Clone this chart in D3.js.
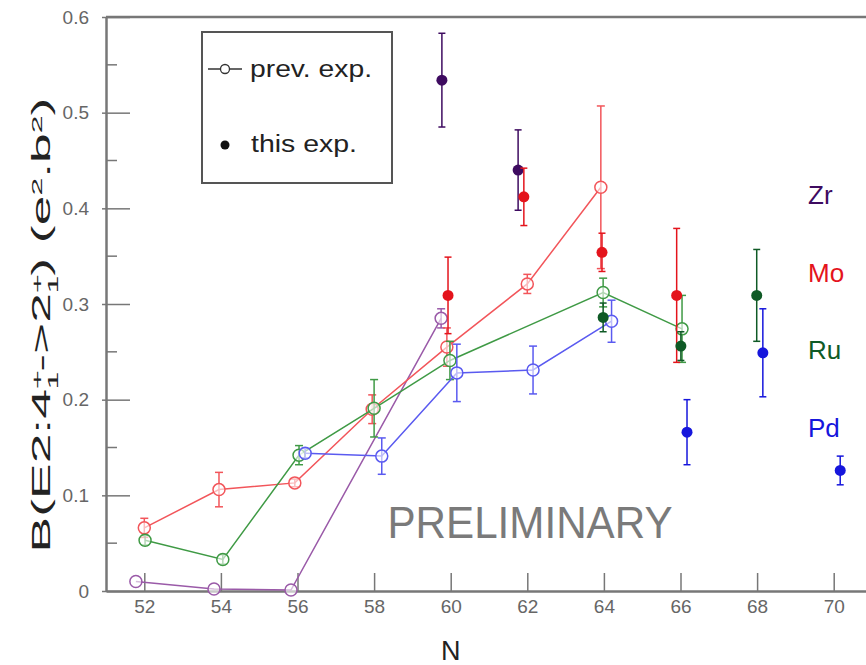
<!DOCTYPE html>
<html>
<head>
<meta charset="utf-8">
<script src="https://d3js.org/d3.v7.min.js"></script>
<style>
  body { margin: 0; background: #fff; }
  text { font-family: "Liberation Sans", Arial, sans-serif; }
</style>
</head>
<body>
<div id="chartContainer"></div>
<script>
// tick values
var xTicks = [52, 54, 56, 58, 60, 62, 64, 66, 68, 70];
var yTicks = [0, 0.1, 0.2, 0.3, 0.4, 0.5, 0.6];
var yMinor = [0.05, 0.15, 0.25, 0.35, 0.45, 0.55];

var seriesNames = ["Zr", "Mo", "Ru", "Pd"];

// previous experiments (open circles, joined)  n = N (slightly shifted), b = B(E2), e = error
var zrPrev = [{n: 51.78, b: 0.010, e: 0}, {n: 53.82, b: 0.002, e: 0}, {n: 55.83, b: 0.001, e: 0}, {n: 59.75, b: 0.285, e: 0.01}];
var moPrev = [{n: 52.0, b: 0.066, e: 0.01}, {n: 53.95, b: 0.106, e: 0.018}, {n: 55.93, b: 0.113, e: 0.004},
              {n: 57.95, b: 0.190, e: 0.015}, {n: 59.9, b: 0.255, e: 0.02}, {n: 62.0, b: 0.321, e: 0.01}, {n: 63.92, b: 0.422, e: 0.085}];
var ruPrev = [{n: 52.02, b: 0.053, e: 0.005}, {n: 54.05, b: 0.033, e: 0.005}, {n: 56.04, b: 0.142, e: 0.01},
              {n: 58.0, b: 0.191, e: 0.03}, {n: 59.98, b: 0.241, e: 0.02}, {n: 63.98, b: 0.312, e: 0.015}, {n: 66.04, b: 0.274, e: 0.035}];
var pdPrev = [{n: 56.2, b: 0.144, e: 0.005}, {n: 58.2, b: 0.141, e: 0.019}, {n: 60.16, b: 0.228, e: 0.03},
              {n: 62.15, b: 0.231, e: 0.025}, {n: 64.2, b: 0.282, e: 0.022}];

// this experiment (filled dots)
var zrThis = [{n: 59.77, b: 0.534, e: 0.049}, {n: 61.76, b: 0.440, e: 0.042}];
var moThis = [{n: 59.93, b: 0.309, e: 0.04}, {n: 61.91, b: 0.412, e: 0.03}, {n: 63.95, b: 0.354, e: 0.02}, {n: 65.9, b: 0.309, e: 0.07}];
var ruThis = [{n: 63.98, b: 0.286, e: 0.015}, {n: 66.01, b: 0.256, e: 0.015}, {n: 67.99, b: 0.309, e: 0.048}];
var pdThis = [{n: 66.17, b: 0.166, e: 0.034}, {n: 68.15, b: 0.249, e: 0.046}, {n: 70.17, b: 0.126, e: 0.015}];

var W = 866, H = 665;
var svg = d3.select("#chartContainer").append("svg").attr("width", W).attr("height", H);

var x = d3.scaleLinear().domain([51, 71]).range([106, 872]);
var y = d3.scaleLinear().domain([0, 0.6]).range([591, 17]);

var prevCol = {Zr: "#9a5aa8", Mo: "#f2555a", Ru: "#3f9a45", Pd: "#5a5af0"};
var thisCol = {Zr: "#3e0b60", Mo: "#e4141c", Ru: "#0f5a26", Pd: "#1616dc"};

var prev = {Zr: zrPrev, Mo: moPrev, Ru: ruPrev, Pd: pdPrev};
var curr = {Zr: zrThis, Mo: moThis, Ru: ruThis, Pd: pdThis};

// axes
var axisCol = "#777";
var xAxis = d3.axisBottom(x).tickValues(xTicks).tickSizeInner(-18).tickSizeOuter(0).tickPadding(9);
var gx = svg.append("g").attr("transform", "translate(0,591)").call(xAxis);
gx.select(".domain").attr("stroke", axisCol).attr("stroke-width", 2.5);
gx.selectAll(".tick line").attr("stroke", axisCol).attr("stroke-width", 1.5);
gx.selectAll(".tick text").attr("font-size", 19).attr("fill", "#666");

var yAxis = d3.axisLeft(y).tickValues(yTicks).tickSizeInner(-24).tickSizeOuter(0).tickPadding(17)
  .tickFormat(function (d) { return d === 0 ? "0" : d3.format(".1f")(d); });
var gy = svg.append("g").attr("transform", "translate(106,0)").call(yAxis);
gy.select(".domain").attr("stroke", axisCol).attr("stroke-width", 2.5);
gy.selectAll(".tick line").attr("stroke", axisCol).attr("stroke-width", 1.5).attr("x1", -4);
gy.selectAll(".tick text").attr("font-size", 19).attr("fill", "#666");
gy.selectAll(".minor").data(yMinor).enter().append("line")
  .attr("x1", 0).attr("x2", 11)
  .attr("y1", function (d) { return y(d); }).attr("y2", function (d) { return y(d); })
  .attr("stroke", axisCol).attr("stroke-width", 1.5);

// top frame
svg.append("line").attr("x1", 106).attr("x2", W).attr("y1", y(0.6)).attr("y2", y(0.6))
  .attr("stroke", axisCol).attr("stroke-width", 2.5);

// axis titles
svg.append("text").attr("x", x(60)).attr("y", 660).attr("text-anchor", "middle")
  .attr("font-size", 27).attr("fill", "#222").text("N");

var yl = svg.append("text").attr("text-anchor", "middle").attr("font-size", 25).attr("fill", "#222");
function part(txt, shift, size) {
  var t = yl.append("tspan").text(txt);
  if (shift) t.attr("baseline-shift", shift).attr("font-size", size || 15);
  return t;
}
part("B(E2:4");
part("+", "super");
part("1", "sub").attr("dx", -9);
part("->2");
part("+", "super");
part("1", "sub").attr("dx", -9);
part(") (e");
part("2", "super");
part(".b");
part("2", "super");
part(")");
var ylw = yl.node().getBBox().width;
yl.attr("transform", "translate(50,325) rotate(-90) scale(" + (455 / ylw) + ",1)");

// watermark
svg.append("text").attr("x", 530).attr("y", 538).attr("text-anchor", "middle")
  .attr("font-size", 44).attr("fill", "#7a7a7a")
  .attr("textLength", 285).attr("lengthAdjust", "spacingAndGlyphs").text("PRELIMINARY");

// error bars
function errBars(g, data, col, cap) {
  var eb = g.selectAll(null).data(data.filter(function (d) { return d.e > 0; })).enter().append("g");
  eb.append("line")
    .attr("x1", function (d) { return x(d.n); }).attr("x2", function (d) { return x(d.n); })
    .attr("y1", function (d) { return y(d.b - d.e); }).attr("y2", function (d) { return y(d.b + d.e); })
    .attr("stroke", col).attr("stroke-width", 1.5);
  [-1, 1].forEach(function (s) {
    eb.append("line")
      .attr("x1", function (d) { return x(d.n) - cap; }).attr("x2", function (d) { return x(d.n) + cap; })
      .attr("y1", function (d) { return y(d.b + s * d.e); }).attr("y2", function (d) { return y(d.b + s * d.e); })
      .attr("stroke", col).attr("stroke-width", 1.5);
  });
}

var line = d3.line().x(function (d) { return x(d.n); }).y(function (d) { return y(d.b); });

// previous experiment series
seriesNames.forEach(function (s) {
  var g = svg.append("g");
  var col = prevCol[s];
  g.append("path").datum(prev[s]).attr("d", line).attr("fill", "none")
    .attr("stroke", col).attr("stroke-width", 1.5);
  errBars(g, prev[s], col, 4);
  g.selectAll("circle").data(prev[s]).enter().append("circle")
    .attr("cx", function (d) { return x(d.n); }).attr("cy", function (d) { return y(d.b); })
    .attr("r", 6).attr("fill", "white").attr("fill-opacity", 0.6)
    .attr("stroke", col).attr("stroke-width", 1.5);
});

// this experiment
seriesNames.forEach(function (s) {
  var g = svg.append("g");
  var col = thisCol[s];
  errBars(g, curr[s], col, 3.5);
  g.selectAll("circle").data(curr[s]).enter().append("circle")
    .attr("cx", function (d) { return x(d.n); }).attr("cy", function (d) { return y(d.b); })
    .attr("r", 5.5).attr("fill", col);
});

// series names on the right
svg.selectAll(".sname").data(seriesNames).enter().append("text")
  .attr("x", 808)
  .attr("y", function (d, i) { return 204 + i * 77.5; })
  .attr("font-size", 26)
  .attr("fill", function (d) { return thisCol[d]; })
  .text(function (d) { return d; });

// legend
var lg = svg.append("g");
lg.append("rect").attr("x", 202).attr("y", 32).attr("width", 190).attr("height", 151)
  .attr("fill", "white").attr("stroke", "#555").attr("stroke-width", 2);
lg.append("line").attr("x1", 208).attr("x2", 242).attr("y1", 69).attr("y2", 69).attr("stroke", "#333").attr("stroke-width", 1.5);
lg.append("circle").attr("cx", 225).attr("cy", 69).attr("r", 4.5).attr("fill", "white").attr("stroke", "#333").attr("stroke-width", 1.3);
lg.append("text").attr("x", 250).attr("y", 77).attr("font-size", 23).attr("fill", "#222")
  .attr("textLength", 122).attr("lengthAdjust", "spacingAndGlyphs").text("prev. exp.");
lg.append("circle").attr("cx", 225).attr("cy", 145).attr("r", 4.5).attr("fill", "#111");
lg.append("text").attr("x", 251).attr("y", 152).attr("font-size", 23).attr("fill", "#222")
  .attr("textLength", 106).attr("lengthAdjust", "spacingAndGlyphs").text("this exp.");
</script>
</body>
</html>
